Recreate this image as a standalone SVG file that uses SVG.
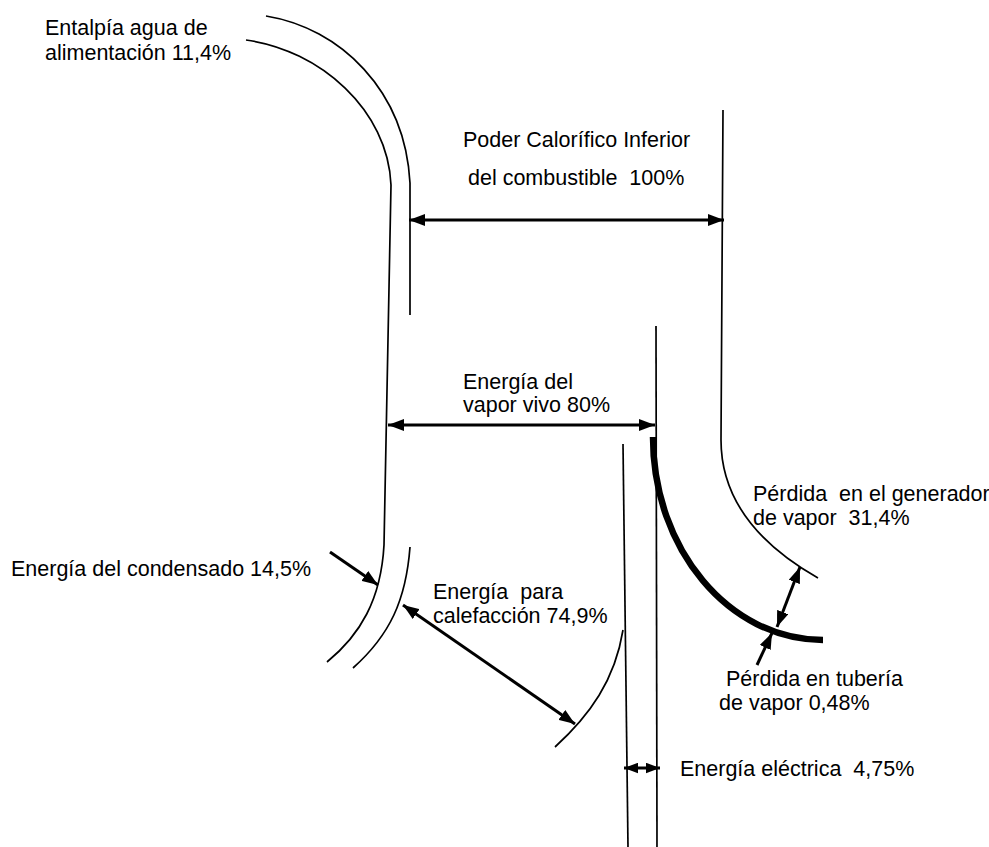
<svg xmlns="http://www.w3.org/2000/svg" width="989" height="847" viewBox="0 0 989 847">
<style>
.ln{fill:none;stroke:#000;stroke-width:1.7}
.thick{fill:none;stroke:#000;stroke-width:6.5}
.ar{fill:none;stroke:#000;stroke-width:3}
.t{font-family:"Liberation Sans",Arial,sans-serif;font-size:21.5px;fill:#000;white-space:pre}
</style>
<defs>
<marker id="ah" viewBox="0 0 16 12" refX="16" refY="6" markerWidth="16" markerHeight="12" markerUnits="userSpaceOnUse" orient="auto-start-reverse">
<path d="M0,0 L16,6 L0,12 z" fill="#000"/>
</marker>
<marker id="ahs" viewBox="0 0 16 12" refX="16" refY="6" markerWidth="14" markerHeight="11" markerUnits="userSpaceOnUse" orient="auto-start-reverse">
<path d="M0,0 L16,6 L0,12 z" fill="#000"/>
</marker>
</defs>
<g id="flows">
<path class="ln" d="M266,16 C340,28 405,90 410,183 L410,315"/>
<path class="ln" d="M246,40 C320,50 388,110 391,185 L384,545 C381,600 360,635 327,662"/>
<path class="ln" d="M410,547 C406,600 390,635 353,668"/>
<path class="ln" d="M623,630 C615,680 590,715 555,747"/>
<path class="ln" d="M623,444 L628,847"/>
<path class="ln" d="M656,326 L657,847"/>
<path class="ln" d="M723,110 L721,440 C721,500 760,545 818,578"/>
<path class="thick" d="M653,437 C653,549 729,640 823,640"/>
</g>
<g id="connectors">
<line class="ar" x1="409" y1="220" x2="724" y2="220" marker-start="url(#ah)" marker-end="url(#ah)"/>
<line class="ar" x1="388" y1="425" x2="655" y2="425" marker-start="url(#ah)" marker-end="url(#ah)"/>
<line class="ar" x1="330" y1="552" x2="378" y2="585" marker-end="url(#ah)"/>
<line class="ar" x1="403" y1="605" x2="575" y2="724" marker-start="url(#ah)" marker-end="url(#ah)"/>
<line class="ar" x1="777" y1="627" x2="800" y2="567" marker-start="url(#ah)" marker-end="url(#ah)"/>
<line class="ar" x1="757" y1="665" x2="772" y2="633" marker-end="url(#ah)"/>
<line class="ar" x1="624" y1="768" x2="660" y2="768" marker-start="url(#ahs)" marker-end="url(#ahs)"/>
</g>
<g id="labels">
<text class="t" x="45" y="35">Entalpía agua de</text>
<text class="t" x="45" y="60">alimentación 11,4%</text>
<text class="t" x="463" y="147">Poder Calorífico Inferior</text>
<text class="t" x="468" y="185">del combustible  100%</text>
<text class="t" x="463" y="389">Energía del</text>
<text class="t" x="463" y="412">vapor vivo 80%</text>
<text class="t" x="11" y="576">Energía del condensado 14,5%</text>
<text class="t" x="433" y="599">Energía  para</text>
<text class="t" x="433" y="623">calefacción 74,9%</text>
<text class="t" x="753" y="501">Pérdida  en el generador</text>
<text class="t" x="753" y="525">de vapor  31,4%</text>
<text class="t" x="726" y="686">Pérdida en tubería</text>
<text class="t" x="719" y="710">de vapor 0,48%</text>
<text class="t" x="680" y="776">Energía eléctrica  4,75%</text>
</g>
</svg>
